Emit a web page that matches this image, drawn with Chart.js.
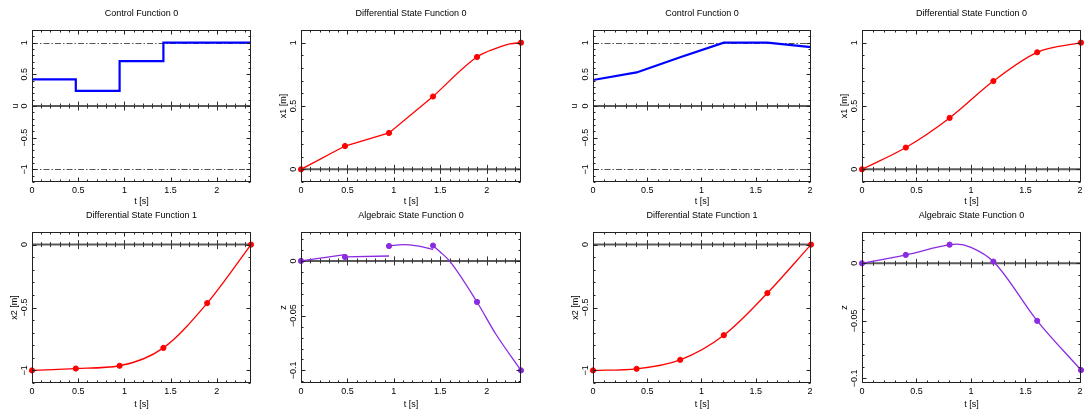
<!DOCTYPE html>
<html><head><meta charset="utf-8">
<script src="https://cdn.jsdelivr.net/npm/chart.js@4/dist/chart.umd.min.js"></script>
<style>
html,body{margin:0;padding:0;background:#fff;width:1086px;height:417px;overflow:hidden}
canvas{position:absolute}
</style></head><body>
<canvas id="c1"></canvas><canvas id="c2"></canvas><canvas id="c3"></canvas><canvas id="c4"></canvas>
<canvas id="c5"></canvas><canvas id="c6"></canvas><canvas id="c7"></canvas><canvas id="c8"></canvas>
<script>
// ---------- data ----------
const tNodesA = [0, 0.474, 0.948, 1.422, 1.896, 2.37];
const tNodesB = [0, 0.402, 0.804, 1.206, 1.608, 2.01];

// control, left problem (piecewise constant)
const uStepT = [0, 0.474, 0.948, 1.422, 2.37];
const uStepA = [0.42, 0.24, 0.71, 1.0, 1.0];
// control, right problem (piecewise linear)
const uB = [0.41, 0.53, 0.77, 1.0, 1.0, 0.93];

// differential state x1
const x1A = [0, 0.184, 0.287, 0.575, 0.887, 1.0];
const x1ALinT = [0, 0.474, 0.948, 1.422];
const x1ALin = [0, 0.184, 0.287, 0.575];
const x1ACurveT = [1.422, 1.896, 2.1, 2.25, 2.37];
const x1ACurve = [0.575, 0.887, 0.955, 0.99, 1.0];
const x1B = [0, 0.172, 0.406, 0.697, 0.924, 1.0];

// differential state x2
const x2A = [-1, -0.985, -0.963, -0.821, -0.465, 0];
const x2B = [-1, -0.987, -0.916, -0.72, -0.385, 0];

// algebraic state z
const zA = [0, 0.0036, 0.0136, 0.014, -0.0375, -0.1];
const zSeg1T = [0, 0.474], zSeg1 = [0, 0.0058];
const zSeg2T = [0.474, 0.948], zSeg2 = [0.0036, 0.0045];
const zSeg3T = [0.948, 1.1, 1.25, 1.422], zSeg3 = [0.0136, 0.0149, 0.0137, 0.0104];
const zSeg4T = [1.422, 1.5, 1.6, 1.896, 2.1, 2.37], zSeg4 = [0.014, 0.0082, 0, -0.0375, -0.067, -0.1];
const zB = [0, 0.0073, 0.0162, 0.0015, -0.05, -0.0928];
const zBLineT = [0, 0.402, 0.804, 0.87, 1.0, 1.206, 1.608, 2.01];
const zBLine = [0, 0.0073, 0.0162, 0.0167, 0.0139, 0.0015, -0.05, -0.0928];

// tick labels
const xTickVals = [0, 0.5, 1, 1.5, 2];
const xTickLabs = ['0', '0.5', '1', '1.5', '2'];
const yValsCtrl = [-1, -0.5, 0, 0.5, 1];
const yLabsCtrl = ['\u22121', '\u22120.5', '0', '0.5', '1'];
const yValsX1 = [0, 0.5, 1];
const yLabsX1 = ['0', '0.5', '1'];
const yValsX2 = [-1, -0.5, 0];
const yLabsX2 = ['\u22121', '\u22120.5', '0'];
const yValsZ = [-0.1, -0.05, 0];
const yLabsZ = ['\u22120.1', '\u22120.05', '0'];

// ---------- styling ----------
const BLUE = '#0000ff', RED = '#ff0000', PURPLE = '#8a2be2';
const FONT = 'Liberation Sans, Arial, sans-serif';

function pts(xs, ys) { return xs.map((x, i) => ({x: x, y: ys[i]})); }
function lineDS(xs, ys, color, width, mode, stepped) {
  return {data: pts(xs, ys), showLine: true, borderColor: color, borderWidth: width,
    pointRadius: 0, tension: 0, cubicInterpolationMode: mode || 'default',
    stepped: stepped || false, fill: false, order: 2};
}
function markerDS(xs, ys, color) {
  return {data: pts(xs, ys), showLine: false, pointRadius: 2.6, pointStyle: 'circle',
    pointBackgroundColor: color, pointBorderColor: color, pointBorderWidth: 1, clip: false, order: 1};
}

const framePlugin = {
  id: 'frame',
  beforeDatasetsDraw(chart, args, o) {
    const ctx = chart.ctx, a = chart.chartArea, x = chart.scales.x, y = chart.scales.y;
    ctx.save();
    ctx.beginPath(); ctx.rect(a.left, a.top, a.right - a.left, a.bottom - a.top); ctx.clip();
    (o.limits || []).forEach(v => {
      const py = Math.round(y.getPixelForValue(v)) + 0.5;
      ctx.strokeStyle = '#555'; ctx.lineWidth = 1; ctx.setLineDash([6, 2, 1.5, 2]);
      ctx.beginPath(); ctx.moveTo(a.left, py); ctx.lineTo(a.right, py); ctx.stroke();
    });
    ctx.setLineDash([]);
    const y0 = y.getPixelForValue(0);
    ctx.strokeStyle = '#5a5a5a'; ctx.lineWidth = 2;
    ctx.beginPath(); ctx.moveTo(a.left, y0); ctx.lineTo(a.right, y0); ctx.stroke();
    ctx.lineWidth = 1; ctx.strokeStyle = '#333';
    for (let k = 0; k * 0.1 <= x.max + 1e-9; k++) {
      const v = k * 0.1, px = Math.round(x.getPixelForValue(v)) + 0.5;
      const major = Math.abs(v / 0.5 - Math.round(v / 0.5)) < 1e-6;
      const L = major ? 4.5 : 2.5;
      ctx.beginPath(); ctx.moveTo(px, y0 - L); ctx.lineTo(px, y0 + L); ctx.stroke();
    }
    ctx.restore();
  },
  afterDatasetsDraw(chart, args, o) {
    const ctx = chart.ctx, a = chart.chartArea, x = chart.scales.x, y = chart.scales.y;
    ctx.save();
    ctx.strokeStyle = '#222'; ctx.lineWidth = 1;
    const L = Math.round(a.left) + 0.5, R = Math.round(a.right) - 0.5;
    const T = Math.round(a.top) + 0.5, B = Math.round(a.bottom) - 0.5;
    ctx.strokeRect(L, T, R - L, B - T);
    for (let k = 0; k * 0.1 <= x.max + 1e-9; k++) {
      const v = k * 0.1, px = Math.round(x.getPixelForValue(v)) + 0.5;
      const major = Math.abs(v / 0.5 - Math.round(v / 0.5)) < 1e-6;
      const len = major ? 4 : 2;
      ctx.beginPath(); ctx.moveTo(px, B); ctx.lineTo(px, B - len);
      ctx.moveTo(px, T); ctx.lineTo(px, T + len); ctx.stroke();
    }
    const ms = o.yMinor, MS = o.yMajor;
    const k0 = Math.ceil(y.min / ms - 1e-9), k1 = Math.floor(y.max / ms + 1e-9);
    for (let k = k0; k <= k1; k++) {
      const v = k * ms, py = Math.round(y.getPixelForValue(v)) + 0.5;
      const major = Math.abs(v / MS - Math.round(v / MS)) < 1e-6;
      const len = major ? 4 : 2;
      ctx.beginPath(); ctx.moveTo(L, py); ctx.lineTo(L + len, py);
      ctx.moveTo(R, py); ctx.lineTo(R - len, py); ctx.stroke();
    }
    ctx.fillStyle = '#000';
    ctx.font = '9px ' + FONT;
    ctx.textAlign = 'center'; ctx.textBaseline = 'middle';
    o.yVals.forEach((v, i) => {
      const py = y.getPixelForValue(v);
      ctx.save(); ctx.translate(a.left - 7.5, py); ctx.rotate(-Math.PI / 2);
      ctx.fillText(o.yLabs[i], 0, 0); ctx.restore();
    });
    ctx.save(); ctx.translate(a.left - o.yTitleOff, (a.top + a.bottom) / 2); ctx.rotate(-Math.PI / 2);
    ctx.fillText(o.yTitle, 0, 0); ctx.restore();
    ctx.restore();
  }
};

const panels = [
  {id: 'c1', left: 0, top: 0, w: 260, h: 208, pl: 32, pr: 9, row: 0, title: 'Control Function 0',
   xmax: 2.37, ymin: -1.2, ymax: 1.2, yVals: yValsCtrl, yLabs: yLabsCtrl, yMinor: 0.1, yMajor: 0.5,
   yTitle: 'u', yTitleOff: 16, limits: [-1, 1],
   datasets: [lineDS(uStepT, uStepA, BLUE, 2.2, null, 'before')]},
  {id: 'c2', left: 265, top: 0, w: 265, h: 208, pl: 36, pr: 9, row: 0, title: 'Differential State Function 0',
   xmax: 2.37, ymin: -0.1, ymax: 1.1, yVals: yValsX1, yLabs: yLabsX1, yMinor: 0.1, yMajor: 0.5,
   yTitle: 'x1 [m]', yTitleOff: 17.5,
   datasets: [lineDS(x1ALinT, x1ALin, RED, 1.3), lineDS(x1ACurveT, x1ACurve, RED, 1.3, 'monotone'),
              markerDS(tNodesA, x1A, RED)]},
  {id: 'c3', left: 550, top: 0, w: 270, h: 208, pl: 43, pr: 9, row: 0, title: 'Control Function 0',
   xmax: 2.01, ymin: -1.2, ymax: 1.2, yVals: yValsCtrl, yLabs: yLabsCtrl, yMinor: 0.1, yMajor: 0.5,
   yTitle: 'u', yTitleOff: 18, limits: [-1, 1],
   datasets: [lineDS(tNodesB, uB, BLUE, 2.2)]},
  {id: 'c4', left: 825, top: 0, w: 261, h: 208, pl: 37, pr: 5, row: 0, title: 'Differential State Function 0',
   xmax: 2.01, ymin: -0.1, ymax: 1.1, yVals: yValsX1, yLabs: yLabsX1, yMinor: 0.1, yMajor: 0.5,
   yTitle: 'x1 [m]', yTitleOff: 17.5,
   datasets: [lineDS(tNodesB, x1B, RED, 1.3, 'monotone'), markerDS(tNodesB, x1B, RED)]},
  {id: 'c5', left: 0, top: 208, w: 260, h: 209, pl: 32, pr: 9, row: 1, title: 'Differential State Function 1',
   xmax: 2.37, ymin: -1.1, ymax: 0.1, yVals: yValsX2, yLabs: yLabsX2, yMinor: 0.1, yMajor: 0.5,
   yTitle: 'x2 [m]', yTitleOff: 17.5,
   datasets: [lineDS(tNodesA, x2A, RED, 1.3, 'monotone'), markerDS(tNodesA, x2A, RED)]},
  {id: 'c6', left: 265, top: 208, w: 265, h: 209, pl: 36, pr: 9, row: 1, title: 'Algebraic State Function 0',
   xmax: 2.37, ymin: -0.1115, ymax: 0.0264, yVals: yValsZ, yLabs: yLabsZ, yMinor: 0.01, yMajor: 0.05,
   yTitle: 'z', yTitleOff: 17.5,
   datasets: [lineDS(zSeg1T, zSeg1, PURPLE, 1.3), lineDS(zSeg2T, zSeg2, PURPLE, 1.3),
              lineDS(zSeg3T, zSeg3, PURPLE, 1.3, 'monotone'), lineDS(zSeg4T, zSeg4, PURPLE, 1.3, 'monotone'),
              markerDS(tNodesA, zA, PURPLE)]},
  {id: 'c7', left: 550, top: 208, w: 270, h: 209, pl: 43, pr: 9, row: 1, title: 'Differential State Function 1',
   xmax: 2.01, ymin: -1.1, ymax: 0.1, yVals: yValsX2, yLabs: yLabsX2, yMinor: 0.1, yMajor: 0.5,
   yTitle: 'x2 [m]', yTitleOff: 17.5,
   datasets: [lineDS(tNodesB, x2B, RED, 1.3, 'monotone'), markerDS(tNodesB, x2B, RED)]},
  {id: 'c8', left: 825, top: 208, w: 261, h: 209, pl: 37, pr: 5, row: 1, title: 'Algebraic State Function 0',
   xmax: 2.01, ymin: -0.104, ymax: 0.0272, yVals: yValsZ, yLabs: yLabsZ, yMinor: 0.01, yMajor: 0.05,
   yTitle: 'z', yTitleOff: 17.5,
   datasets: [lineDS(zBLineT, zBLine, PURPLE, 1.3, 'monotone'), markerDS(tNodesB, zB, PURPLE)]}
];

panels.forEach(p => {
  const cv = document.getElementById(p.id);
  cv.width = p.w; cv.height = p.h;
  cv.style.left = p.left + 'px'; cv.style.top = p.top + 'px';
  cv.style.width = p.w + 'px'; cv.style.height = p.h + 'px';
  const axisH = p.row === 0 ? 26 : 34;
  const titlePadBottom = p.row === 0 ? 0.6 : 6.6;
  new Chart(cv, {
    type: 'scatter',
    data: {datasets: p.datasets},
    options: {
      responsive: false, animation: false, devicePixelRatio: 1,
      layout: {padding: {left: p.pl, right: p.pr, top: 0, bottom: 0}},
      plugins: {
        legend: {display: false}, tooltip: {enabled: false},
        title: {display: true, text: p.title, color: '#000',
          font: {family: FONT, size: 9, weight: 'normal'},
          padding: p.row === 0 ? {top: 8, bottom: 11.2} : {top: 2, bottom: 11.2}},
        frame: {limits: p.limits, yVals: p.yVals, yLabs: p.yLabs, yMinor: p.yMinor,
          yMajor: p.yMajor, yTitle: p.yTitle, yTitleOff: p.yTitleOff}
      },
      scales: {
        x: {type: 'linear', min: 0, max: p.xmax,
          grid: {display: false, drawTicks: false}, border: {display: false},
          afterBuildTicks: s => { s.ticks = xTickVals.filter(v => v <= p.xmax + 1e-9).map(v => ({value: v})); },
          ticks: {padding: 3, color: '#000', font: {family: FONT, size: 9}, maxRotation: 0, autoSkip: false,
            callback: v => { const i = xTickVals.indexOf(v); return i >= 0 ? xTickLabs[i] : ''; }},
          title: {display: true, text: 't [s]', color: '#000', font: {family: FONT, size: 9},
            padding: {top: 0, bottom: titlePadBottom}},
          afterFit: s => { s.height = axisH; }},
        y: {type: 'linear', display: false, min: p.ymin, max: p.ymax}
      }
    },
    plugins: [framePlugin]
  });
});
</script>
</body></html>
